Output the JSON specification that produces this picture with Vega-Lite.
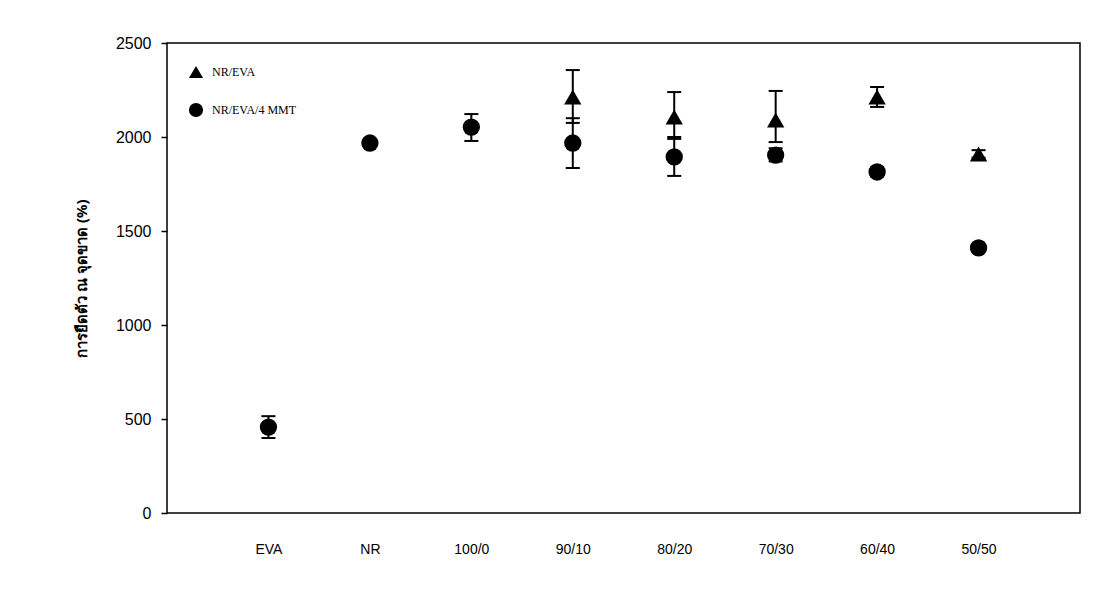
{
  "$schema": "https://vega.github.io/schema/vega-lite/v6.json",
  "autosize": "none",
  "width": 913,
  "height": 470,
  "padding": {"left": 167, "top": 43, "right": 17, "bottom": 84},
  "background": "white",
  "config": {
    "view": {"stroke": "black", "strokeWidth": 1.5},
    "font": "Liberation Sans"
  },
  "data": {
    "values": [
      {"blend": "EVA", "series": "NR/EVA/4 MMT", "value": 457, "lo": 399, "hi": 515},
      {"blend": "NR", "series": "NR/EVA/4 MMT", "value": 1968, "lo": 1955, "hi": 1981},
      {"blend": "100/0", "series": "NR/EVA/4 MMT", "value": 2053, "lo": 1979, "hi": 2122},
      {"blend": "90/10", "series": "NR/EVA", "value": 2213, "lo": 2075, "hi": 2356},
      {"blend": "90/10", "series": "NR/EVA/4 MMT", "value": 1968, "lo": 1835, "hi": 2100},
      {"blend": "80/20", "series": "NR/EVA", "value": 2106, "lo": 1990, "hi": 2239},
      {"blend": "80/20", "series": "NR/EVA/4 MMT", "value": 1894, "lo": 1793, "hi": 2000},
      {"blend": "70/30", "series": "NR/EVA", "value": 2090, "lo": 1973, "hi": 2245},
      {"blend": "70/30", "series": "NR/EVA/4 MMT", "value": 1904, "lo": 1870, "hi": 1940},
      {"blend": "60/40", "series": "NR/EVA", "value": 2213, "lo": 2160, "hi": 2266},
      {"blend": "60/40", "series": "NR/EVA/4 MMT", "value": 1814, "lo": 1790, "hi": 1840},
      {"blend": "50/50", "series": "NR/EVA", "value": 1910, "lo": 1890, "hi": 1930},
      {"blend": "50/50", "series": "NR/EVA/4 MMT", "value": 1410, "lo": 1390, "hi": 1430}
    ]
  },
  "encoding": {
    "x": {
      "field": "blend",
      "type": "nominal",
      "sort": null,
      "scale": {"type": "point", "padding": 1},
      "axis": {
        "title": null,
        "labelAngle": 0,
        "ticks": false,
        "domain": false,
        "labelPadding": 29,
        "labelFontSize": 14,
        "labelColor": "black",
        "labelFont": "Liberation Sans"
      }
    }
  },
  "layer": [
    {
      "mark": {"type": "rule", "color": "black", "strokeWidth": 2},
      "encoding": {
        "y": {"field": "lo", "type": "quantitative"},
        "y2": {"field": "hi"}
      }
    },
    {
      "mark": {"type": "tick", "color": "black", "thickness": 2, "size": 14, "opacity": 1},
      "encoding": {"y": {"field": "lo", "type": "quantitative"}}
    },
    {
      "mark": {"type": "tick", "color": "black", "thickness": 2, "size": 14, "opacity": 1},
      "encoding": {"y": {"field": "hi", "type": "quantitative"}}
    },
    {
      "mark": {"type": "point", "filled": true, "opacity": 1, "color": "black"},
      "encoding": {
        "y": {
          "field": "value",
          "type": "quantitative",
          "scale": {"domain": [0, 2500], "nice": false},
          "axis": {
            "title": "การยืดตัว ณ จุดขาด (%)",
            "titleFont": "Noto Sans",
            "titleFontSize": 15,
            "titleFontWeight": "bold",
            "titleColor": "black",
            "titlePadding": 26,
            "values": [0, 500, 1000, 1500, 2000, 2500],
            "format": "d",
            "grid": false,
            "domain": false,
            "tickColor": "black",
            "tickSize": 6,
            "tickWidth": 1.5,
            "labelPadding": 10,
            "labelFontSize": 16,
            "labelColor": "black",
            "labelFont": "Liberation Sans"
          }
        },
        "shape": {
          "field": "series",
          "type": "nominal",
          "scale": {"domain": ["NR/EVA", "NR/EVA/4 MMT"], "range": ["triangle-up", "circle"]},
          "legend": {
            "title": null,
            "orient": "top-left",
            "offset": 21,
            "labelFont": "Liberation Serif",
            "labelFontSize": 12,
            "labelColor": "black",
            "symbolFillColor": "black",
            "symbolStrokeColor": "black",
            "symbolSize": 200,
            "rowPadding": 17,
            "symbolOffset": 0,
            "labelOffset": 8
          }
        },
        "size": {"value": 300}
      }
    }
  ]
}
